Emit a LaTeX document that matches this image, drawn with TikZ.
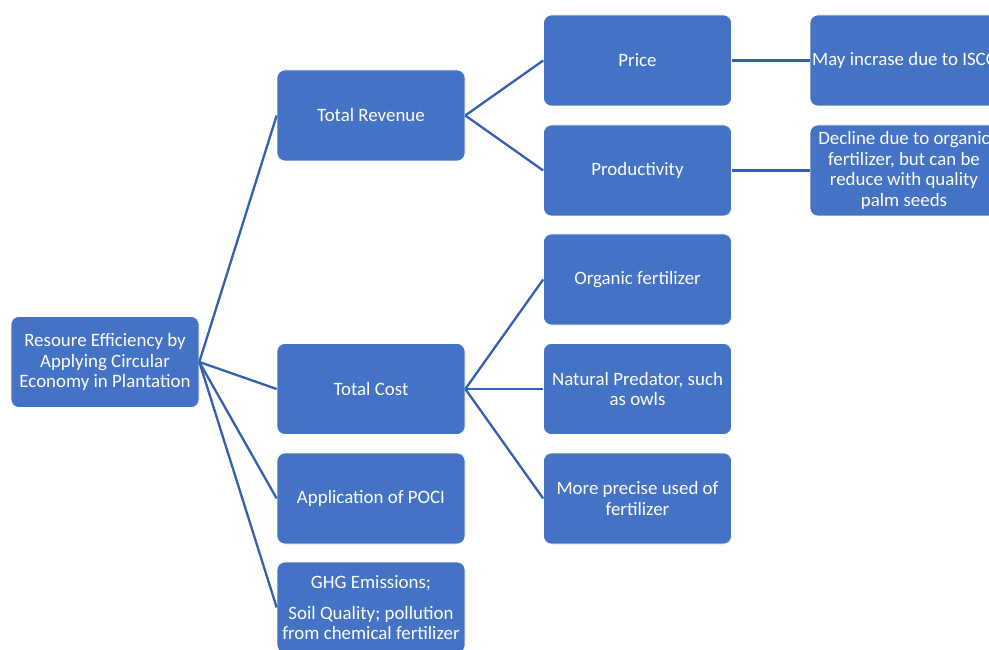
\documentclass[tikz,border=0pt]{standalone}
\usepackage{fontspec}
\setmainfont{Carlito}
\definecolor{boxblue}{HTML}{4472C4}
\definecolor{linkblue}{HTML}{3360B0}
\begin{document}
\begin{tikzpicture}[x=1pt,y=-1pt,
  box/.style={rectangle, rounded corners=8pt, fill=boxblue, draw=white, line width=0.6pt,
    minimum width=188pt, minimum height=91pt, inner sep=1pt, align=center, text=white,
    font=\fontsize{18.9}{20.5}\selectfont},
  link/.style={draw=linkblue, line width=2.3pt}]
\useasboundingbox (0,0) rectangle (989,650);
\clip (0,0) rectangle (989,650);
\fill[white] (0,0) rectangle (989,650);

% root
\node[box] (root) at (105,362) {Resoure Efficiency by\\Applying Circular\\Economy in Plantation};

% second level
\node[box] (rev)  at (371,115.5) {Total Revenue};
\node[box] (cost) at (371,389)   {Total Cost};
\node[box] (poci) at (371,498.5) {Application of POCI};
\node[box] (ghg)  at (371,607.5) {GHG Emissions;\\[10.5pt]Soil Quality; pollution\\from chemical fertilizer};

% third level
\node[box] (price) at (637.5,60.5)  {Price};
\node[box] (prod)  at (637.5,170.5) {Productivity};
\node[box] (org)   at (637.5,279.5) {Organic fertilizer};
\node[box] (pred)  at (637.5,389)   {Natural Predator, such\\as owls};
\node[box] (prec)  at (637.5,498.5) {More precise used of\\fertilizer};

% fourth level
\node[box] (may) at (904,60.5)  {May incrase due to ISCC};
\node[box] (dec) at (904,170.5) {Decline due to organic\\fertilizer, but can be\\reduce with quality\\palm seeds};

% connectors
\foreach \t in {rev,cost,poci,ghg} \draw[link] (root.east) -- (\t.west);
\foreach \t in {price,prod} \draw[link] (rev.east) -- (\t.west);
\foreach \t in {org,pred,prec} \draw[link] (cost.east) -- (\t.west);
\draw[link] (price.east) -- (may.west);
\draw[link] (prod.east) -- (dec.west);
\end{tikzpicture}
\end{document}
